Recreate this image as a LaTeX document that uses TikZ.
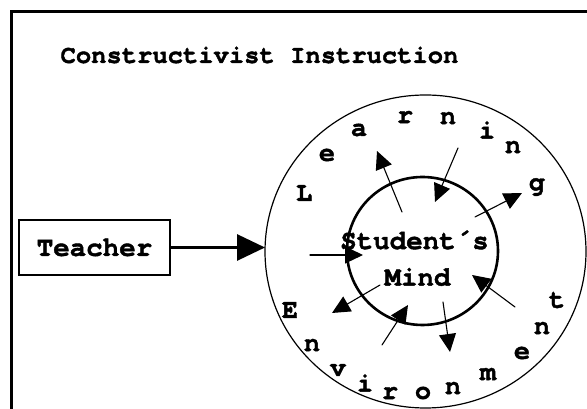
\documentclass[tikz,border=0pt]{standalone}
\usepackage{fontspec}
\setmainfont{TeX Gyre Cursor}[BoldFeatures={FakeBold=1.5}]
\usepackage{tkz-euclide}
\usetikzlibrary{arrows.meta,calc}
\tikzset{
  BigTxt/.style={font=\bfseries\fontsize{27.5}{27.5}\selectfont},
  Letter/.style={font=\bfseries\fontsize{27}{27}\selectfont,inner sep=0pt},
  ArrowSmall/.style={-{Triangle[length=18pt,width=17pt]},line width=1.1pt},
  ArrowBig/.style={-{Triangle[length=28pt,width=26pt]},line width=3pt}
}

\begin{document}
\begin{tikzpicture}[x=1pt,y=1pt]
\tkzSetUpLine[line width=1.1pt,color=black]
\useasboundingbox (0,0) rectangle (587,409);

% frame (cut at right and bottom)
\draw[line width=2.5pt] (11.5,0) -- (11.5,397.5) -- (587,397.5);

\node[BigTxt,font=\bfseries\fontsize{25.5}{25.5}\selectfont] (Title) at (259.5,354) {Constructivist Instruction};

% environment and mind
\draw[line width=1.2pt] (425.5,157.5) ellipse [x radius=160.5,y radius=156.5];
\draw[line width=2.6pt] (422.5,158) ellipse [x radius=75.5,y radius=74];

\node[BigTxt,draw,line width=2pt,minimum width=151pt,minimum height=55pt] (Teacher) at (94.5,161.5) {Teacher};
\coordinate (W) at (265,161.5);
\draw[ArrowBig] (Teacher.east) -- (W);

\node[BigTxt,inner sep=0pt] (Stud) at (414.5,169) {Student\'{}s};
\node[BigTxt,inner sep=0pt] (Mind) at (417.5,132) {Mind};

\tkzDefPoints{402/197/S1,458/261/S2,475/192/S3,310/154/S4,
  380/124/S5,515/102/S6,382/64/S7,443/107/S8}
\tkzDefPoints{377/258/T1,435/207/T2,522/216/T3,363/154/T4,
  332/96/T5,472/134/T6,408/104/T7,450/57/T8}
\tkzDrawSegments[ArrowSmall](S1,T1 S2,T2 S3,T3 S4,T4 S5,T5 S6,T6 S7,T7 S8,T8)

% Learning
\node[Letter] (Le1) at (304,216) {L};
\node[Letter] (Le2) at (327,254) {e};
\node[Letter] (Le3) at (359,279) {a};
\node[Letter] (Le4) at (405,292) {r};
\node[Letter] (Le5) at (448,291) {n};
\node[Letter] (Le6) at (487,279) {i};
\node[Letter] (Le7) at (513,262) {n};
\node[Letter] (Le8) at (537,222) {g};

% Environment
\node[Letter] (En1) at (290,99) {E};
\node[Letter] (En2) at (312,64) {n};
\node[Letter] (En3) at (338,39) {v};
\node[Letter] (En4) at (365,26) {i};
\node[Letter] (En5) at (390,16) {r};
\node[Letter] (En6) at (423,16) {o};
\node[Letter] (En7) at (453,21) {n};
\node[Letter] (En8) at (488,35) {m};
\node[Letter] (En9) at (522,56) {e};
\node[Letter] (En10) at (542,81) {n};
\node[Letter] (En11) at (557,109) {t};

\end{tikzpicture}
\end{document}
